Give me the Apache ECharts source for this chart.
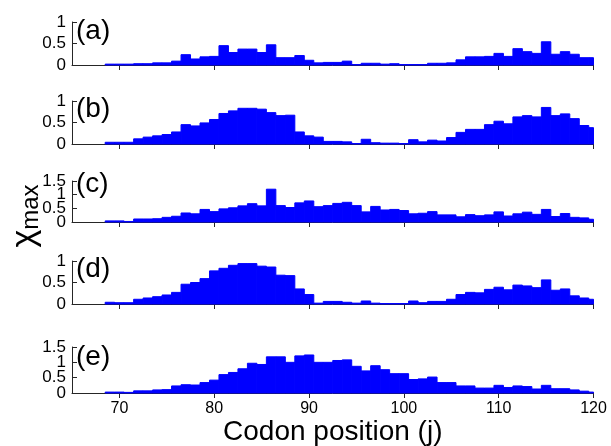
<!DOCTYPE html>
<html>
<head>
<meta charset="utf-8">
<script src="https://cdn.jsdelivr.net/npm/echarts@6/dist/echarts.min.js"></script>
<style>
  html, body { margin: 0; padding: 0; background: #fff; }
  #chart { width: 611px; height: 446px; }
</style>
</head>
<body>
<div id="chart"></div>
<script>
// codon positions j (bar centres), one bar per codon
const codons = [
  69, 70, 71, 72, 73, 74, 75, 76, 77, 78,
  79, 80, 81, 82, 83, 84, 85, 86, 87, 88,
  89, 90, 91, 92, 93, 94, 95, 96, 97, 98,
  99, 100, 101, 102, 103, 104, 105, 106, 107, 108,
  109, 110, 111, 112, 113, 114, 115, 116, 117, 118,
  119, 120
];

// chi_max per panel
const chiA = [
  0.02, 0.02, 0.02, 0.03, 0.03, 0.05, 0.05, 0.09, 0.24, 0.14,
  0.19, 0.20, 0.45, 0.29, 0.37, 0.37, 0.29, 0.47, 0.17, 0.17,
  0.22, 0.11, 0.05, 0.06, 0.06, 0.09, 0.01, 0.04, 0.04, 0.02,
  0.03, 0.01, 0.01, 0.01, 0.04, 0.04, 0.05, 0.12, 0.19, 0.19,
  0.20, 0.27, 0.20, 0.38, 0.31, 0.27, 0.54, 0.25, 0.31, 0.25,
  0.17, 0.17
];
const chiB = [
  0.04, 0.04, 0.04, 0.12, 0.16, 0.19, 0.22, 0.28, 0.45, 0.42,
  0.49, 0.57, 0.71, 0.77, 0.83, 0.83, 0.81, 0.73, 0.66, 0.67,
  0.28, 0.19, 0.16, 0.06, 0.06, 0.05, 0.01, 0.11, 0.03, 0.02,
  0.02, 0.01, 0.10, 0.05, 0.09, 0.07, 0.15, 0.27, 0.34, 0.34,
  0.45, 0.53, 0.47, 0.63, 0.66, 0.63, 0.85, 0.66, 0.70, 0.59,
  0.43, 0.38
];
const chiC = [
  0.04, 0.04, 0.02, 0.11, 0.11, 0.12, 0.17, 0.21, 0.33, 0.30,
  0.46, 0.38, 0.48, 0.52, 0.59, 0.67, 0.59, 1.20, 0.60, 0.53,
  0.70, 0.77, 0.56, 0.60, 0.68, 0.72, 0.60, 0.37, 0.57, 0.44,
  0.46, 0.42, 0.30, 0.32, 0.38, 0.26, 0.26, 0.19, 0.27, 0.23,
  0.26, 0.37, 0.22, 0.30, 0.36, 0.28, 0.46, 0.20, 0.31, 0.17,
  0.15, 0.10
];
const chiD = [
  0.04, 0.03, 0.03, 0.11, 0.14, 0.17, 0.21, 0.27, 0.46, 0.50,
  0.59, 0.77, 0.83, 0.90, 0.94, 0.94, 0.88, 0.86, 0.67, 0.66,
  0.35, 0.22, 0.02, 0.06, 0.06, 0.04, 0.02, 0.07, 0.02, 0.01,
  0.01, 0.01, 0.07, 0.03, 0.06, 0.06, 0.11, 0.22, 0.27, 0.26,
  0.34, 0.39, 0.33, 0.44, 0.42, 0.38, 0.56, 0.32, 0.35, 0.19,
  0.14, 0.11
];
const chiE = [
  0.03, 0.03, 0.02, 0.07, 0.07, 0.10, 0.11, 0.23, 0.27, 0.26,
  0.34, 0.42, 0.60, 0.67, 0.79, 0.97, 0.93, 1.18, 1.18, 1.00,
  1.21, 1.24, 1.00, 1.00, 1.06, 1.08, 0.87, 0.72, 0.89, 0.76,
  0.63, 0.63, 0.44, 0.46, 0.52, 0.34, 0.34, 0.23, 0.23, 0.16,
  0.16, 0.25, 0.18, 0.23, 0.21, 0.13, 0.25, 0.14, 0.14, 0.10,
  0.06, 0.03
];

const panelNames = ['(a)', '(b)', '(c)', '(d)', '(e)'];
const panelMax = [1, 1, 1.5, 1, 1.5];
const xTicks = [70, 80, 90, 100, 110, 120];
// y tick labels, split in two sets so the tight ones in (c)/(e) all show
const yTicksWhole = [0, 1];
const yTicksHalf = [0.5, 1.5];
const xRange = [65, 120];

const panels = [chiA, chiB, chiC, chiD, chiE];

// layout (px)
const gridTops = [22, 101, 181, 261, 347];
const gridHeights = [43, 43, 41, 43, 46];
const labelY = [31, 109, 184, 269, 357];

const FONT = '"Liberation Sans", Arial, sans-serif';
const AXIS = '#262626';

function renderBar(params, api) {
  const x = api.value(0);
  const y = api.value(1);
  const p0 = api.coord([x - 0.5, y]);
  const p1 = api.coord([x + 0.5, 0]);
  const shape = echarts.graphic.clipRectByRect(
    { x: p0[0], y: p0[1], width: p1[0] - p0[0], height: p1[1] - p0[1] },
    { x: params.coordSys.x, y: params.coordSys.y,
      width: params.coordSys.width, height: params.coordSys.height }
  );
  return shape && {
    type: 'rect',
    shape: shape,
    style: { fill: '#0000ff', stroke: '#0000ff', lineWidth: 1 }
  };
}

const chart = echarts.init(document.getElementById('chart'), null, { renderer: 'canvas' });

const yLabel = { color: '#000', fontFamily: FONT, fontSize: 17, margin: 6,
  hideOverlap: false, showMinLabel: true, showMaxLabel: true };

const grids = [], xAxes = [], yAxes = [], series = [], texts = [];
panels.forEach((vals, i) => {
  const last = i === panels.length - 1;
  const max = panelMax[i];
  grids.push({ left: 72, right: 17.5, top: gridTops[i], height: gridHeights[i],
    outerBoundsMode: 'none', containLabel: false });
  xAxes.push({
    type: 'value', gridIndex: i, min: xRange[0], max: xRange[1],
    axisLine: { show: true, onZero: false, lineStyle: { color: AXIS, width: 1 } },
    axisTick: { show: true, inside: false, length: 5, customValues: xTicks,
      lineStyle: { color: AXIS } },
    axisLabel: { show: last, customValues: xTicks, color: '#000',
      fontFamily: FONT, fontSize: 16, margin: 8 },
    splitLine: { show: false },
    name: last ? 'Codon position (j)' : '',
    nameLocation: 'middle', nameGap: 24,
    nameTextStyle: { fontFamily: FONT, fontSize: 28, color: '#000' }
  });
  const yMain = yAxes.length;
  yAxes.push({
    type: 'value', gridIndex: i, position: 'left', min: 0, max: max, interval: 0.5,
    axisLine: { show: true, onZero: false, lineStyle: { color: AXIS, width: 1 } },
    axisTick: { show: true, inside: true, length: 5, lineStyle: { color: AXIS } },
    axisLabel: Object.assign({}, yLabel,
      { customValues: yTicksWhole.filter(v => v <= max) }),
    splitLine: { show: false }
  });
  yAxes.push({
    type: 'value', gridIndex: i, position: 'left', offset: 0, min: 0, max: max,
    interval: 0.5,
    axisLine: { show: false, onZero: false },
    axisTick: { show: false },
    axisLabel: Object.assign({}, yLabel,
      { customValues: yTicksHalf.filter(v => v <= max) }),
    splitLine: { show: false }
  });
  series.push({
    type: 'custom', xAxisIndex: i, yAxisIndex: yMain,
    renderItem: renderBar,
    encode: { x: 0, y: 1 },
    data: codons.map((c, k) => [c, vals[k]]),
    silent: true
  });
  texts.push({
    type: 'text', x: 76, y: labelY[i],
    style: { text: panelNames[i], font: '28px ' + FONT, fill: '#000',
      verticalAlign: 'middle', align: 'left' }
  });
});

texts.push({
  type: 'text', x: 25, y: 216, rotation: Math.PI / 2,
  style: {
    text: '{c|χ}{s|max}', align: 'center', verticalAlign: 'middle', fill: '#000',
    rich: {
      c: { fontSize: 34, fontFamily: FONT },
      s: { fontSize: 24, fontFamily: FONT, padding: [12, 0, 0, 0] }
    }
  }
});

chart.setOption({
  animation: false,
  backgroundColor: '#fff',
  grid: grids,
  xAxis: xAxes,
  yAxis: yAxes,
  series: series,
  graphic: texts
});
</script>
</body>
</html>
